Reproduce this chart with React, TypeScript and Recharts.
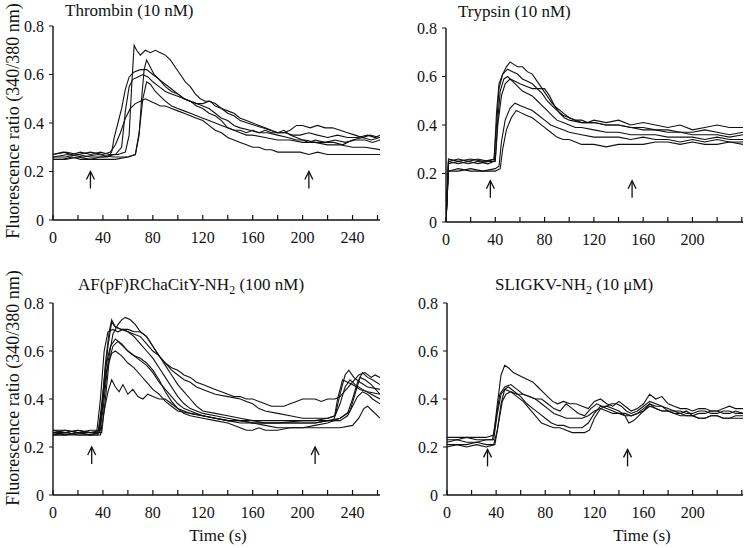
import React from "react";
import { LineChart, Line, XAxis, YAxis, ReferenceDot } from "recharts";

type Pt = [number, number];

const FONT = '"Liberation Serif", "Times New Roman", serif';
const INK = "#111";

const yTicks = [0, 0.2, 0.4, 0.6, 0.8];
const xTicksLong = [0, 20, 40, 60, 80, 100, 120, 140, 160, 180, 200, 220, 240, 260];
const xTicksShort = [0, 20, 40, 60, 80, 100, 120, 140, 160, 180, 200, 220, 240];

// Thrombin (10 nM)
const thrombinA: Pt[] = [[0,0.27],[8,0.28],[15,0.27],[22,0.28],[30,0.27],[38,0.28],[45,0.27],[52,0.27],[58,0.28],[61,0.35],[63,0.55],[65,0.72],[67,0.70],[70,0.68],[74,0.70],[78,0.69],[82,0.70],[86,0.69],[90,0.68],[94,0.66],[98,0.63],[102,0.60],[106,0.57],[110,0.55],[114,0.52],[118,0.50],[122,0.49],[126,0.49],[130,0.47],[135,0.46],[140,0.44],[145,0.43],[150,0.41],[156,0.40],[162,0.39],[168,0.38],[174,0.37],[180,0.36],[186,0.36],[192,0.35],[198,0.35],[205,0.36],[212,0.35],[220,0.34],[228,0.35],[236,0.34],[244,0.34],[252,0.35],[258,0.34],[262,0.35]];
const thrombinB: Pt[] = [[0,0.25],[8,0.25],[15,0.26],[22,0.25],[30,0.25],[38,0.26],[44,0.26],[47,0.28],[49,0.34],[52,0.40],[55,0.46],[58,0.54],[61,0.59],[65,0.61],[70,0.62],[75,0.62],[80,0.60],[85,0.58],[90,0.56],[95,0.54],[100,0.52],[105,0.50],[110,0.49],[115,0.48],[120,0.47],[125,0.46],[130,0.44],[135,0.42],[140,0.41],[145,0.39],[150,0.38],[158,0.37],[165,0.36],[172,0.36],[180,0.35],[188,0.34],[195,0.33],[202,0.33],[210,0.32],[218,0.32],[226,0.33],[234,0.32],[242,0.33],[250,0.33],[256,0.32],[262,0.33]];
const thrombinC: Pt[] = [[0,0.26],[10,0.26],[20,0.27],[30,0.26],[40,0.26],[50,0.27],[55,0.30],[58,0.45],[61,0.55],[64,0.58],[68,0.59],[72,0.60],[76,0.59],[80,0.57],[85,0.55],[90,0.53],[95,0.52],[100,0.51],[105,0.50],[110,0.49],[115,0.47],[120,0.46],[125,0.44],[130,0.43],[135,0.41],[140,0.38],[145,0.37],[150,0.37],[155,0.36],[160,0.37],[165,0.36],[170,0.37],[175,0.36],[180,0.36],[185,0.37],[190,0.35],[195,0.34],[200,0.33],[205,0.32],[210,0.33],[218,0.32],[225,0.32],[232,0.31],[240,0.33],[248,0.34],[255,0.33],[262,0.34]];
const thrombinD: Pt[] = [[0,0.25],[10,0.25],[20,0.26],[30,0.25],[40,0.25],[50,0.25],[60,0.26],[66,0.27],[69,0.35],[71,0.50],[73,0.62],[75,0.66],[78,0.63],[81,0.60],[85,0.58],[90,0.55],[95,0.53],[100,0.52],[105,0.50],[110,0.49],[115,0.48],[120,0.48],[125,0.49],[130,0.48],[135,0.46],[140,0.45],[145,0.44],[150,0.42],[155,0.41],[160,0.40],[165,0.39],[170,0.38],[175,0.37],[180,0.36],[185,0.36],[190,0.37],[195,0.39],[200,0.39],[206,0.38],[212,0.39],[218,0.38],[224,0.38],[230,0.37],[236,0.36],[242,0.35],[248,0.34],[254,0.35],[262,0.34]];
const thrombinE: Pt[] = [[0,0.27],[10,0.28],[20,0.27],[30,0.28],[40,0.27],[46,0.28],[50,0.31],[54,0.36],[58,0.42],[62,0.46],[66,0.48],[70,0.49],[74,0.50],[78,0.49],[82,0.48],[86,0.47],[90,0.47],[95,0.46],[100,0.45],[105,0.44],[110,0.43],[115,0.42],[120,0.41],[125,0.39],[130,0.37],[135,0.36],[140,0.34],[145,0.33],[150,0.32],[155,0.31],[160,0.30],[165,0.30],[170,0.29],[175,0.29],[180,0.28],[190,0.28],[198,0.28],[205,0.27],[212,0.28],[220,0.27],[262,0.27]];
const thrombinF: Pt[] = [[0,0.26],[12,0.27],[24,0.26],[36,0.27],[48,0.26],[60,0.26],[66,0.27],[69,0.36],[72,0.50],[75,0.57],[78,0.56],[82,0.53],[86,0.51],[90,0.49],[95,0.47],[100,0.46],[105,0.45],[110,0.44],[115,0.43],[120,0.42],[125,0.41],[130,0.40],[135,0.39],[140,0.38],[145,0.37],[150,0.36],[155,0.35],[160,0.35],[170,0.34],[180,0.33],[190,0.33],[200,0.32],[210,0.32],[220,0.31],[230,0.31],[240,0.30],[250,0.30],[262,0.29]];

// Trypsin (10 nM)
const trypsinA: Pt[] = [[0,0],[2,0.25],[10,0.26],[18,0.25],[26,0.26],[34,0.25],[39,0.26],[41,0.40],[43,0.55],[46,0.61],[49,0.64],[52,0.66],[55,0.65],[58,0.64],[62,0.64],[66,0.62],[70,0.61],[74,0.58],[78,0.55],[82,0.52],[86,0.49],[90,0.47],[95,0.45],[100,0.43],[105,0.42],[110,0.42],[115,0.41],[120,0.42],[130,0.41],[140,0.42],[150,0.40],[160,0.41],[170,0.40],[180,0.39],[190,0.40],[200,0.38],[210,0.39],[220,0.40],[230,0.39],[241,0.39]];
const trypsinB: Pt[] = [[0,0],[2,0.24],[10,0.25],[18,0.24],[26,0.25],[34,0.24],[39,0.25],[41,0.45],[43,0.57],[46,0.61],[50,0.63],[54,0.62],[58,0.61],[62,0.59],[66,0.58],[70,0.57],[74,0.55],[78,0.53],[82,0.50],[86,0.48],[90,0.46],[95,0.44],[100,0.43],[105,0.42],[110,0.41],[120,0.41],[130,0.40],[140,0.40],[150,0.39],[160,0.39],[170,0.38],[180,0.38],[190,0.37],[200,0.37],[210,0.38],[220,0.37],[230,0.36],[241,0.37]];
const trypsinC: Pt[] = [[0,0],[2,0.25],[10,0.24],[18,0.25],[26,0.24],[34,0.25],[40,0.25],[42,0.42],[44,0.54],[47,0.59],[50,0.60],[54,0.58],[58,0.56],[62,0.54],[66,0.53],[70,0.52],[74,0.50],[78,0.48],[82,0.46],[86,0.44],[90,0.42],[95,0.41],[100,0.40],[105,0.39],[110,0.39],[120,0.38],[130,0.37],[140,0.37],[150,0.36],[160,0.36],[170,0.36],[180,0.35],[190,0.35],[200,0.35],[210,0.34],[220,0.35],[230,0.34],[241,0.34]];
const trypsinD: Pt[] = [[0,0],[2,0.26],[10,0.25],[20,0.26],[30,0.25],[40,0.26],[42,0.40],[45,0.52],[48,0.57],[52,0.59],[56,0.58],[60,0.57],[65,0.56],[70,0.55],[75,0.55],[80,0.55],[84,0.52],[88,0.48],[92,0.45],[96,0.43],[100,0.42],[110,0.41],[120,0.41],[130,0.40],[140,0.40],[150,0.39],[160,0.38],[170,0.38],[180,0.37],[190,0.37],[200,0.36],[210,0.36],[220,0.36],[230,0.35],[241,0.36]];
const trypsinE: Pt[] = [[0,0],[2,0.21],[10,0.22],[20,0.21],[30,0.21],[40,0.22],[43,0.23],[45,0.33],[48,0.42],[52,0.47],[56,0.49],[60,0.48],[65,0.47],[70,0.46],[75,0.44],[80,0.42],[85,0.40],[90,0.39],[95,0.38],[100,0.37],[110,0.36],[120,0.35],[130,0.35],[140,0.35],[150,0.34],[160,0.35],[170,0.34],[180,0.34],[190,0.33],[200,0.34],[210,0.33],[220,0.34],[230,0.33],[241,0.33]];
const trypsinF: Pt[] = [[0,0],[2,0.21],[10,0.21],[20,0.22],[30,0.21],[40,0.21],[44,0.22],[46,0.30],[49,0.38],[53,0.43],[57,0.46],[61,0.45],[65,0.44],[70,0.43],[75,0.41],[80,0.39],[85,0.37],[90,0.35],[95,0.34],[100,0.34],[105,0.33],[110,0.32],[120,0.32],[130,0.31],[140,0.32],[150,0.32],[160,0.32],[170,0.33],[180,0.33],[190,0.32],[200,0.33],[210,0.32],[220,0.32],[230,0.33],[241,0.32]];

// AF(pF)RChaCitY-NH2 (100 nM)
const afA: Pt[] = [[0,0.26],[10,0.26],[20,0.27],[30,0.26],[36,0.26],[39,0.35],[42,0.55],[45,0.68],[47,0.73],[50,0.70],[55,0.69],[60,0.69],[65,0.68],[70,0.68],[75,0.66],[80,0.62],[85,0.58],[90,0.54],[95,0.50],[100,0.46],[105,0.43],[110,0.40],[115,0.37],[120,0.35],[130,0.34],[140,0.33],[150,0.32],[160,0.31],[180,0.31],[200,0.31],[215,0.31],[225,0.31],[228,0.40],[232,0.48],[236,0.47],[240,0.46],[246,0.44],[252,0.43],[262,0.42]];
const afB: Pt[] = [[0,0.27],[10,0.27],[20,0.26],[30,0.27],[37,0.27],[40,0.35],[44,0.55],[48,0.67],[52,0.71],[55,0.73],[58,0.74],[62,0.73],[66,0.71],[70,0.68],[75,0.66],[80,0.62],[85,0.58],[90,0.55],[95,0.53],[100,0.52],[105,0.50],[110,0.49],[115,0.47],[120,0.46],[125,0.45],[130,0.44],[135,0.43],[140,0.42],[145,0.41],[150,0.41],[155,0.40],[160,0.40],[165,0.39],[170,0.38],[175,0.37],[180,0.37],[185,0.37],[190,0.38],[195,0.39],[200,0.40],[205,0.40],[210,0.40],[215,0.39],[220,0.40],[226,0.40],[230,0.41],[235,0.44],[240,0.47],[245,0.50],[250,0.51],[255,0.49],[258,0.50],[262,0.49]];
const afC: Pt[] = [[0,0.25],[10,0.25],[20,0.25],[30,0.25],[35,0.26],[38,0.40],[41,0.60],[44,0.68],[48,0.69],[52,0.68],[56,0.69],[60,0.68],[65,0.67],[70,0.66],[75,0.63],[80,0.60],[85,0.58],[90,0.55],[95,0.52],[100,0.50],[105,0.48],[110,0.47],[115,0.45],[120,0.44],[130,0.42],[140,0.41],[150,0.40],[155,0.39],[160,0.38],[165,0.36],[170,0.35],[180,0.34],[190,0.33],[200,0.32],[210,0.32],[220,0.32],[226,0.33],[230,0.42],[234,0.50],[237,0.52],[241,0.49],[246,0.47],[252,0.45],[262,0.44]];
const afD: Pt[] = [[0,0.25],[10,0.26],[20,0.25],[30,0.25],[36,0.25],[39,0.38],[42,0.53],[46,0.62],[50,0.65],[55,0.63],[60,0.60],[65,0.58],[70,0.57],[75,0.55],[80,0.52],[85,0.48],[90,0.43],[95,0.39],[100,0.36],[105,0.35],[110,0.34],[120,0.33],[130,0.32],[140,0.31],[150,0.30],[160,0.30],[170,0.30],[180,0.30],[190,0.30],[200,0.30],[210,0.30],[220,0.31],[230,0.32],[236,0.34],[240,0.40],[244,0.47],[248,0.51],[252,0.49],[256,0.48],[262,0.46]];
const afE: Pt[] = [[0,0.26],[10,0.25],[20,0.26],[30,0.25],[37,0.26],[40,0.40],[43,0.52],[47,0.59],[50,0.60],[55,0.58],[60,0.55],[65,0.53],[70,0.50],[75,0.47],[80,0.44],[85,0.42],[90,0.39],[95,0.37],[100,0.35],[110,0.34],[120,0.33],[130,0.32],[140,0.31],[150,0.31],[160,0.31],[170,0.30],[180,0.30],[190,0.30],[200,0.30],[210,0.30],[220,0.31],[230,0.31],[236,0.33],[240,0.37],[244,0.41],[248,0.43],[252,0.42],[256,0.40],[262,0.38]];
const afF: Pt[] = [[0,0.25],[10,0.25],[20,0.26],[30,0.25],[38,0.25],[41,0.35],[44,0.43],[47,0.48],[50,0.45],[53,0.43],[56,0.46],[60,0.42],[64,0.44],[68,0.41],[72,0.40],[76,0.42],[80,0.41],[85,0.40],[90,0.40],[95,0.38],[100,0.36],[105,0.34],[110,0.33],[120,0.32],[130,0.31],[140,0.30],[150,0.28],[155,0.27],[160,0.27],[165,0.28],[170,0.27],[180,0.27],[190,0.28],[200,0.28],[210,0.28],[220,0.28],[230,0.28],[240,0.29],[245,0.32],[249,0.36],[252,0.37],[256,0.35],[262,0.32]];
const afG: Pt[] = [[0,0.27],[10,0.26],[20,0.27],[30,0.26],[38,0.27],[41,0.45],[44,0.62],[47,0.72],[50,0.70],[55,0.69],[60,0.68],[65,0.66],[70,0.63],[75,0.60],[80,0.57],[85,0.53],[90,0.49],[95,0.45],[100,0.41],[105,0.38],[110,0.36],[115,0.35],[120,0.34],[130,0.33],[140,0.32],[150,0.31],[160,0.30],[170,0.29],[180,0.28],[190,0.28],[200,0.28],[210,0.29],[220,0.30],[230,0.32],[238,0.35],[242,0.42],[246,0.49],[250,0.48],[255,0.46],[262,0.42]];
const afH: Pt[] = [[0,0.26],[10,0.27],[20,0.26],[30,0.26],[39,0.26],[42,0.40],[45,0.56],[48,0.62],[52,0.64],[56,0.62],[60,0.60],[65,0.58],[70,0.56],[75,0.54],[80,0.51],[85,0.47],[90,0.44],[95,0.41],[100,0.38],[105,0.36],[110,0.35],[120,0.33],[130,0.32],[140,0.31],[150,0.31],[160,0.30],[180,0.30],[200,0.31],[210,0.31],[220,0.32],[226,0.33],[230,0.38],[234,0.45],[238,0.48],[242,0.46],[248,0.44],[255,0.42],[262,0.40]];

// SLIGKV-NH2 (10 uM)
const sligA: Pt[] = [[0,0.24],[8,0.24],[16,0.24],[24,0.24],[32,0.24],[38,0.25],[41,0.38],[44,0.50],[47,0.54],[50,0.53],[54,0.51],[58,0.50],[62,0.49],[66,0.48],[70,0.47],[74,0.45],[78,0.43],[82,0.41],[86,0.39],[90,0.38],[95,0.39],[100,0.38],[105,0.38],[110,0.37],[115,0.36],[120,0.39],[125,0.40],[130,0.38],[135,0.37],[140,0.39],[145,0.37],[150,0.35],[155,0.36],[160,0.38],[165,0.42],[170,0.40],[175,0.41],[180,0.38],[185,0.37],[190,0.36],[195,0.36],[200,0.35],[205,0.36],[210,0.36],[215,0.35],[220,0.35],[225,0.36],[230,0.37],[235,0.36],[241,0.36]];
const sligB: Pt[] = [[0,0.22],[8,0.23],[16,0.22],[24,0.22],[32,0.23],[37,0.23],[40,0.32],[43,0.42],[47,0.45],[52,0.46],[57,0.44],[62,0.42],[67,0.41],[72,0.40],[77,0.40],[82,0.38],[87,0.36],[92,0.35],[97,0.38],[102,0.36],[107,0.34],[112,0.33],[117,0.36],[122,0.38],[126,0.37],[130,0.37],[134,0.38],[138,0.38],[142,0.37],[146,0.35],[150,0.34],[155,0.35],[160,0.37],[165,0.39],[170,0.38],[175,0.37],[180,0.35],[185,0.35],[190,0.34],[195,0.35],[200,0.33],[205,0.34],[210,0.34],[215,0.35],[220,0.35],[225,0.34],[230,0.34],[235,0.35],[241,0.34]];
const sligC: Pt[] = [[0,0.21],[8,0.21],[16,0.21],[24,0.22],[32,0.21],[38,0.21],[41,0.27],[44,0.38],[47,0.44],[50,0.45],[55,0.43],[60,0.41],[65,0.38],[70,0.36],[75,0.34],[80,0.32],[85,0.30],[90,0.29],[95,0.29],[100,0.28],[105,0.28],[110,0.28],[115,0.30],[120,0.34],[125,0.37],[130,0.36],[135,0.35],[140,0.34],[145,0.33],[148,0.30],[152,0.31],[156,0.33],[160,0.35],[165,0.37],[170,0.36],[175,0.35],[180,0.35],[185,0.34],[190,0.33],[195,0.33],[200,0.33],[205,0.32],[210,0.32],[215,0.33],[220,0.33],[225,0.32],[230,0.32],[235,0.33],[241,0.33]];
const sligD: Pt[] = [[0,0.20],[8,0.21],[16,0.20],[24,0.21],[32,0.20],[39,0.21],[42,0.30],[45,0.39],[48,0.42],[52,0.43],[57,0.41],[62,0.39],[67,0.36],[72,0.33],[77,0.30],[82,0.29],[87,0.28],[92,0.28],[97,0.27],[102,0.26],[107,0.26],[112,0.26],[116,0.27],[120,0.32],[125,0.36],[130,0.37],[135,0.36],[140,0.35],[145,0.33],[150,0.33],[155,0.34],[160,0.35],[165,0.38],[170,0.36],[175,0.35],[180,0.35],[185,0.34],[190,0.34],[195,0.33],[200,0.33],[205,0.32],[210,0.32],[215,0.33],[220,0.33],[225,0.32],[230,0.32],[235,0.32],[241,0.32]];
const sligE: Pt[] = [[0,0.23],[8,0.23],[16,0.24],[24,0.23],[32,0.23],[38,0.23],[41,0.34],[44,0.42],[47,0.44],[52,0.43],[57,0.42],[62,0.42],[67,0.41],[72,0.40],[77,0.38],[82,0.36],[87,0.34],[92,0.33],[97,0.32],[102,0.32],[110,0.32],[115,0.33],[120,0.35],[125,0.36],[130,0.35],[135,0.34],[140,0.34],[145,0.34],[150,0.33],[155,0.34],[160,0.36],[165,0.38],[170,0.37],[175,0.37],[180,0.36],[185,0.35],[190,0.35],[195,0.34],[200,0.34],[205,0.35],[210,0.35],[215,0.34],[220,0.34],[225,0.35],[230,0.35],[235,0.34],[241,0.34]];

// stimulus arrows: [time, tip value]
const thrombinArrows: Pt[] = [[30, 0.2], [205, 0.2]];
const trypsinArrows: Pt[] = [[36, 0.17], [151, 0.17]];
const afArrows: Pt[] = [[31, 0.2], [210, 0.2]];
const sligArrows: Pt[] = [[33, 0.19], [147, 0.19]];

const toRows = (pts: Pt[]) => pts.map(([t, v]) => ({ t, v }));

function Arrow(props: any) {
  const { cx, cy } = props;
  if (cx == null || cy == null) return null;
  return (
    <g stroke={INK} strokeWidth={1.3} fill="none">
      <line x1={cx} y1={cy} x2={cx} y2={cy + 17} />
      <polyline points={`${cx - 4},${cy + 8} ${cx},${cy} ${cx + 4},${cy + 8}`} />
    </g>
  );
}

// ticks point up into the plot; labels only every 40 s
function TimeTick(props: any) {
  const { x, y, payload, labelMax } = props;
  const v = payload.value as number;
  return (
    <g>
      <line x1={x} x2={x} y1={y} y2={y - 5} stroke={INK} strokeWidth={1.2} />
      {v % 40 === 0 && v <= labelMax && (
        <text x={x} y={y + 23} textAnchor="middle" fontSize={16} fill={INK} fontFamily={FONT}>
          {v}
        </text>
      )}
    </g>
  );
}

interface PanelProps {
  px: number;
  py: number;
  pw: number;
  ph: number;
  xMax: number;
  labelMax: number;
  xTicks: number[];
  traces: Pt[][];
  arrows: Pt[];
}

const YW = 45;
const TOP = 12;

function Panel({ px, py, pw, ph, xMax, labelMax, xTicks, traces, arrows }: PanelProps) {
  return (
    <div style={{ position: "absolute", left: px - YW, top: py - TOP }}>
      <LineChart
        width={YW + pw + 5}
        height={TOP + ph + 30}
        margin={{ top: TOP, right: 5, bottom: 0, left: 0 }}
      >
        <XAxis
          type="number"
          dataKey="t"
          domain={[0, xMax]}
          ticks={xTicks}
          interval={0}
          allowDataOverflow
          tickSize={0}
          tickMargin={0}
          tickLine={false}
          axisLine={{ stroke: INK, strokeWidth: 1.4 }}
          tick={<TimeTick labelMax={labelMax} />}
          height={30}
        />
        <YAxis
          type="number"
          domain={[0, 0.8]}
          ticks={yTicks}
          interval={0}
          width={YW}
          tickSize={4}
          tickMargin={5}
          axisLine={{ stroke: INK, strokeWidth: 1.4 }}
          tickLine={{ stroke: INK }}
          tick={{ fill: INK, fontSize: 16, fontFamily: FONT }}
        />
        {traces.map((tr, i) => (
          <Line
            key={i}
            data={toRows(tr)}
            dataKey="v"
            type="linear"
            dot={false}
            stroke={INK}
            strokeWidth={1.1}
            isAnimationActive={false}
          />
        ))}
        {arrows.map(([t, v], i) => (
          <ReferenceDot key={`a${i}`} x={t} y={v} r={0} shape={<Arrow />} />
        ))}
      </LineChart>
    </div>
  );
}

export default function App() {
  const textStyle = { fontFamily: FONT, fill: INK } as const;
  return (
    <div
      style={{
        position: "absolute",
        left: 0,
        top: 0,
        width: 750,
        height: 548,
        background: "#fff",
        overflow: "hidden",
      }}
    >
      <Panel px={53} py={26} pw={327} ph={194} xMax={262} labelMax={240} xTicks={xTicksLong}
        traces={[thrombinA, thrombinB, thrombinC, thrombinD, thrombinE, thrombinF]} arrows={thrombinArrows} />
      <Panel px={446} py={28} pw={297} ph={194} xMax={241} labelMax={200} xTicks={xTicksShort}
        traces={[trypsinA, trypsinB, trypsinC, trypsinD, trypsinE, trypsinF]} arrows={trypsinArrows} />
      <Panel px={53} py={303} pw={327} ph={192} xMax={262} labelMax={240} xTicks={xTicksLong}
        traces={[afA, afB, afC, afD, afE, afF, afG, afH]} arrows={afArrows} />
      <Panel px={447} py={303} pw={296} ph={192} xMax={241} labelMax={200} xTicks={xTicksShort}
        traces={[sligA, sligB, sligC, sligD, sligE]} arrows={sligArrows} />

      <svg width={750} height={548} style={{ position: "absolute", left: 0, top: 0, pointerEvents: "none" }}>
        <g fontSize={17} {...textStyle}>
          <text x={65} y={16}>Thrombin (10 nM)</text>
          <text x={458} y={17}>Trypsin (10 nM)</text>
          <text x={78} y={290}>
            AF(pF)RChaCitY-NH<tspan fontSize={12} dy={4}>2</tspan>
            <tspan dy={-4}> (100 nM)</tspan>
          </text>
          <text x={495} y={290}>
            SLIGKV-NH<tspan fontSize={12} dy={4}>2</tspan>
            <tspan dy={-4}> (10 μM)</tspan>
          </text>
        </g>
        <g fontSize={18} {...textStyle} textAnchor="middle">
          <text transform="translate(19,121) rotate(-90)">Fluorescence ratio (340/380 nm)</text>
          <text transform="translate(19,388) rotate(-90)">Fluorescence ratio (340/380 nm)</text>
        </g>
        <g fontSize={17} {...textStyle} textAnchor="middle">
          <text x={218} y={541}>Time (s)</text>
          <text x={642} y={541}>Time (s)</text>
        </g>
      </svg>
    </div>
  );
}
